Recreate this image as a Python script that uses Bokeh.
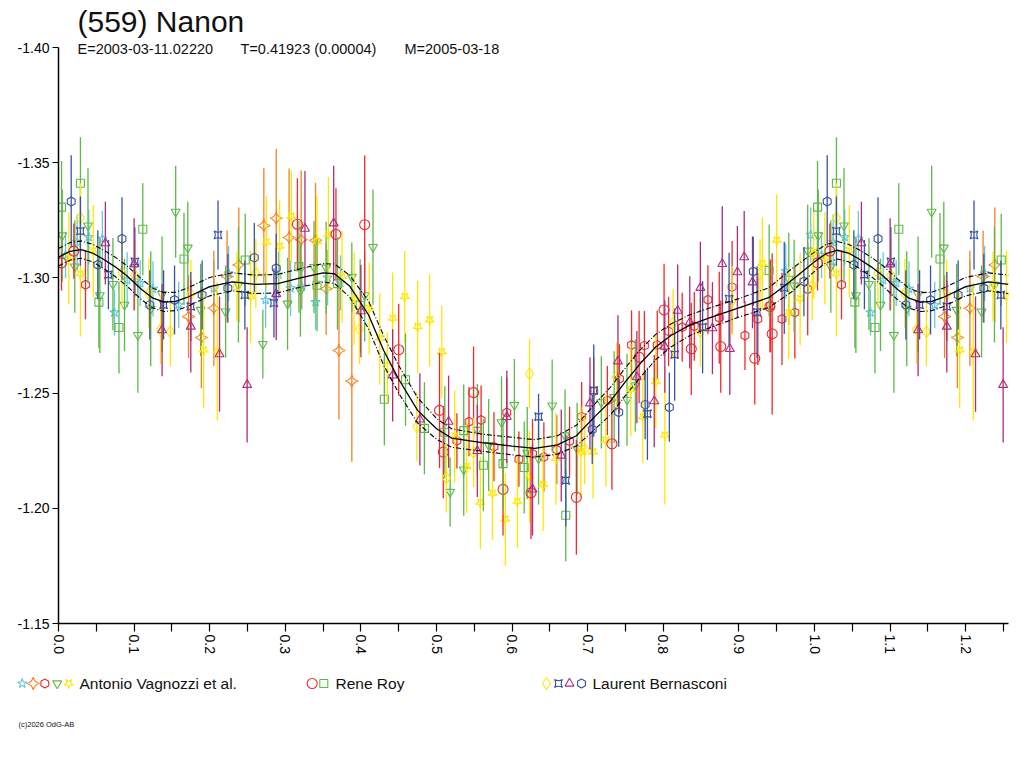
import math
from bokeh.plotting import figure
from bokeh.models import Range1d, FixedTicker, PrintfTickFormatter, Label
from bokeh.core.properties import value
from bokeh.embed import file_html
from bokeh.resources import INLINE

TITLE = "(559) Nanon"
SUB_E = "E=2003-03-11.02220"
SUB_T = "T=0.41923 (0.00004)"
SUB_M = "M=2005-03-18"
COPYRIGHT = "(c)2026 OdG-AB"

X_TICKS = [0.0, 0.1, 0.2, 0.3, 0.4, 0.5, 0.6, 0.7, 0.8, 0.9, 1.0, 1.1, 1.2]
X_MINOR = [0.05, 0.15, 0.25, 0.35, 0.45, 0.55, 0.65, 0.75, 0.85, 0.95, 1.05, 1.15, 1.25]
Y_TICKS = [-1.40, -1.35, -1.30, -1.25, -1.20, -1.15]
PHASE_MAX = 1.2566
REPEAT_LIMIT = 0.2566
MAG_FAINT = -1.15
MAG_BRIGHT = -1.40
MAG_TOP_MARGIN = -1.4204

# (phase, magnitude, error)
A1_star = [(0.0093,-1.3099,0.010),(0.0247,-1.3155,0.012),(0.040,-1.3177,0.012),(0.058,-1.3170,0.012),
           (0.074,-1.2850,0.010),(0.0908,-1.2991,0.012),(0.108,-1.2977,0.010),(0.125,-1.2952,0.012),
           (0.159,-1.2883,0.010),(0.2055,-1.2955,0.012),(0.225,-1.3020,0.012),(0.274,-1.2904,0.012),
           (0.291,-1.3014,0.010),(0.307,-1.2955,0.012),(0.322,-1.2962,0.010),(0.340,-1.2895,0.012),
           (0.356,-1.3001,0.012),(0.373,-1.2978,0.012),(0.962,-1.3029,0.012),(0.995,-1.3187,0.012)]
A2_fourstar = [(0.172,-1.2832,0.018),(0.189,-1.2741,0.022),(0.2055,-1.2868,0.025),(0.223,-1.3006,0.020),
               (0.2385,-1.3056,0.025),(0.2716,-1.3227,0.025),(0.288,-1.3259,0.030),(0.305,-1.3175,0.030),
               (0.321,-1.3166,0.030),(0.340,-1.3163,0.025),(0.354,-1.2953,0.020),(0.371,-1.2685,0.030),
               (0.388,-1.2552,0.035)]
A3_pentagon = [(0.0357,-1.2970,0.015),(0.527,-1.2293,0.012),(0.543,-1.2376,0.015),(0.559,-1.2383,0.015),
               (0.576,-1.2267,0.015),(0.593,-1.2416,0.015),(0.609,-1.2213,0.012),(0.627,-1.2237,0.015),
               (0.642,-1.2223,0.015),(0.659,-1.2254,0.015),(0.676,-1.2291,0.015),(0.692,-1.2398,0.015),
               (0.708,-1.2508,0.015),(0.726,-1.2468,0.015),(0.742,-1.2562,0.015),(0.758,-1.2709,0.015),
               (0.775,-1.2706,0.015),(0.792,-1.2709,0.015),(0.807,-1.2768,0.015),(0.825,-1.2786,0.015),
               (0.841,-1.2790,0.015),(0.859,-1.2905,0.015),(0.874,-1.2827,0.020),(0.891,-1.2960,0.020),
               (0.908,-1.2750,0.015),(0.925,-1.2822,0.020),(0.942,-1.2880,0.020),(0.957,-1.2822,0.020),
               (0.974,-1.2850,0.020),(0.991,-1.2951,0.020)]
A4_invtri = [(0.0049,-1.3184,0.020),(0.0216,-1.3049,0.020),(0.039,-1.3227,0.025),(0.0547,-1.2924,0.025),
             (0.072,-1.2973,0.020),(0.0873,-1.2883,0.020),(0.105,-1.2752,0.025),(0.122,-1.2866,0.025),
             (0.137,-1.2930,0.025),(0.155,-1.3287,0.020),(0.171,-1.3131,0.020),(0.188,-1.2861,0.020),
             (0.221,-1.2854,0.020),(0.238,-1.2970,0.025),(0.2703,-1.2713,0.015),(0.303,-1.2888,0.020),
             (0.320,-1.2945,0.020),(0.338,-1.3047,0.020),(0.354,-1.3044,0.020),(0.388,-1.3004,0.015),
             (0.405,-1.2924,0.020),(0.416,-1.3134,0.025),(0.518,-1.2071,0.015),(0.536,-1.2168,0.020),
             (0.554,-1.2340,0.020),(0.569,-1.2274,0.020),(0.586,-1.2373,0.020),(0.603,-1.2448,0.020),
             (0.620,-1.2240,0.020),(0.635,-1.2216,0.020),(0.653,-1.2446,0.020),(0.670,-1.2316,0.020),
             (0.686,-1.2258,0.020),(0.718,-1.2460,0.020),(0.735,-1.2482,0.020),(0.752,-1.2471,0.020),
             (0.763,-1.2533,0.020),(0.966,-1.2996,0.020),(0.973,-1.2966,0.020),(0.991,-1.3118,0.020)]
A5_bowtie = [(0.0137,-1.3085,0.020),(0.029,-1.3016,0.027),(0.046,-1.3116,0.020),(0.192,-1.2685,0.025),
             (0.210,-1.2681,0.030),(0.254,-1.2919,0.020),(0.275,-1.3154,0.020),(0.2925,-1.3136,0.020),
             (0.308,-1.3266,0.020),(0.342,-1.3155,0.020),(0.357,-1.3187,0.025),(0.375,-1.3004,0.020),
             (0.391,-1.2910,0.020),(0.411,-1.2866,0.020),(0.425,-1.2736,0.020),(0.442,-1.2823,0.020),
             (0.458,-1.2917,0.020),(0.475,-1.2787,0.020),(0.491,-1.2816,0.020),(0.507,-1.2678,0.020),
             (0.524,-1.2311,0.020),(0.540,-1.2180,0.020),(0.558,-1.2024,0.020),(0.574,-1.2064,0.020),
             (0.591,-1.1952,0.020),(0.607,-1.2029,0.020),(0.623,-1.2137,0.020),(0.641,-1.2101,0.020),
             (0.658,-1.2215,0.020),(0.691,-1.2243,0.020),(0.707,-1.2243,0.020),(0.724,-1.2294,0.020),
             (0.757,-1.2514,0.020),(0.773,-1.2396,0.020),(0.790,-1.2548,0.020),(0.802,-1.2316,0.030),
             (0.931,-1.3061,0.020),(0.950,-1.3162,0.020),(0.966,-1.2847,0.020),(0.981,-1.2908,0.020),
             (0.999,-1.3110,0.020)]
R1_circle = [(0.004,-1.3065,0.012),(0.0203,-1.3116,0.012),(0.316,-1.3233,0.020),(0.367,-1.3189,0.020),
             (0.405,-1.3231,0.030),(0.450,-1.2688,0.020),(0.504,-1.2425,0.025),(0.509,-1.2244,0.020),
             (0.549,-1.2502,0.020),(0.588,-1.2082,0.020),(0.625,-1.2067,0.020),(0.685,-1.2048,0.025),
             (0.732,-1.2280,0.020),(0.768,-1.2656,0.020),(0.801,-1.2861,0.020),(0.837,-1.2692,0.020),
             (0.876,-1.2702,0.020),(0.921,-1.2651,0.020),(0.941,-1.2876,0.020),(0.944,-1.2757,0.035)]
R2_square = [(0.004,-1.3307,0.020),(0.029,-1.3411,0.020),(0.0534,-1.2895,0.020),(0.080,-1.2785,0.020),
             (0.1115,-1.3211,0.020),(0.166,-1.3082,0.020),(0.247,-1.3078,0.020),(0.318,-1.3049,0.020),
             (0.342,-1.2968,0.020),(0.369,-1.2975,0.020),(0.399,-1.2881,0.020),(0.431,-1.2473,0.020),
             (0.459,-1.2558,0.020),(0.484,-1.2347,0.020),(0.511,-1.2330,0.020),(0.536,-1.2337,0.020),
             (0.562,-1.2187,0.020),(0.588,-1.2194,0.020),(0.616,-1.2177,0.020),(0.671,-1.1970,0.020),
             (0.940,-1.3032,0.020)]
L1_diamond = [(0.029,-1.3261,0.015),(0.084,-1.3023,0.015),(0.101,-1.3012,0.015),(0.1195,-1.2933,0.015),
              (0.135,-1.2776,0.015),(0.148,-1.2766,0.015),(0.175,-1.2929,0.015),(0.236,-1.2962,0.015),
              (0.261,-1.3020,0.015),(0.398,-1.2777,0.015),(0.435,-1.2613,0.015),(0.474,-1.2354,0.015),
              (0.513,-1.2132,0.015),(0.549,-1.2242,0.015),(0.623,-1.2584,0.015),(0.696,-1.2255,0.015),
              (0.738,-1.2569,0.015),(0.813,-1.2803,0.015),(0.849,-1.2767,0.015),(0.891,-1.2902,0.015),
              (0.928,-1.3018,0.015),(0.997,-1.2965,0.015)]
L2_bowtie = [(0.029,-1.3203,0.015),(0.066,-1.3014,0.015),(0.101,-1.3070,0.015),(0.139,-1.2883,0.015),
             (0.175,-1.2876,0.015),(0.211,-1.3186,0.015),(0.2465,-1.2926,0.015),(0.285,-1.2891,0.015),
             (0.635,-1.2397,0.010),(0.671,-1.2121,0.020),(0.708,-1.2511,0.020),(0.779,-1.2410,0.020),
             (0.815,-1.2667,0.020),(0.852,-1.2786,0.020),(0.887,-1.2909,0.020),(0.924,-1.2851,0.020),
             (0.960,-1.2957,0.020)]
L3_triangle = [(0.062,-1.3151,0.018),(0.100,-1.3059,0.020),(0.137,-1.2773,0.020),(0.175,-1.2789,0.020),
               (0.213,-1.2669,0.025),(0.2495,-1.2536,0.025),(0.288,-1.2930,0.020),(0.326,-1.3214,0.025),
               (0.364,-1.3237,0.025),(0.400,-1.2856,0.020),(0.442,-1.2577,0.020),(0.478,-1.2386,0.020),
               (0.516,-1.2376,0.020),(0.554,-1.2249,0.020),(0.593,-1.2397,0.020),(0.627,-1.2082,0.020),
               (0.665,-1.2229,0.020),(0.703,-1.2456,0.020),(0.740,-1.2638,0.020),(0.765,-1.2569,0.020),
               (0.788,-1.2465,0.020),(0.802,-1.2702,0.020),(0.819,-1.2858,0.020),(0.835,-1.2807,0.020),
               (0.849,-1.2957,0.020),(0.865,-1.2782,0.020),(0.878,-1.3061,0.025),(0.888,-1.2692,0.020),
               (0.898,-1.3025,0.020),(0.907,-1.3090,0.020),(0.918,-1.2981,0.020)]
L4_hexagon = [(0.0168,-1.3332,0.020),(0.052,-1.3057,0.015),(0.084,-1.3170,0.018),(0.1208,-1.2883,0.015),
              (0.1535,-1.2904,0.015),(0.190,-1.2926,0.015),(0.224,-1.2955,0.015),(0.259,-1.3088,0.015),
              (0.288,-1.3042,0.015),(0.706,-1.2342,0.015),(0.741,-1.2417,0.015),(0.776,-1.2450,0.015),
              (0.808,-1.2439,0.015),(0.919,-1.3028,0.015),(0.986,-1.2984,0.015)]

curve_phase = [0.00,0.015,0.03,0.045,0.06,0.075,0.09,0.11,0.125,0.14,0.155,0.17,0.20,0.23,0.26,0.29,0.32,
               0.35,0.365,0.385,0.41,0.43,0.45,0.475,0.50,0.52,0.56,0.60,0.63,0.66,0.685,0.71,0.73,0.75,
               0.77,0.79,0.81,0.835,0.86,0.90,0.94,0.97,1.00,1.015,1.03,1.045,1.06,1.075,1.09,1.11,1.125,
               1.14,1.155,1.17,1.20,1.23,1.2566]
curve_mag = [-1.3090,-1.3115,-1.3123,-1.3108,-1.3080,-1.3048,-1.3010,-1.2950,-1.2912,-1.2895,-1.2898,
             -1.2915,-1.2962,-1.2983,-1.2972,-1.2975,-1.3000,-1.3022,-1.3018,-1.2965,-1.2840,-1.2686,
             -1.2560,-1.2425,-1.2345,-1.2305,-1.2285,-1.2270,-1.2260,-1.2275,-1.2315,-1.2400,-1.2465,
             -1.2550,-1.2630,-1.2700,-1.2750,-1.2795,-1.2825,-1.2870,-1.2915,-1.2990,-1.3070,-1.3105,
             -1.3120,-1.3108,-1.3080,-1.3048,-1.3010,-1.2950,-1.2912,-1.2895,-1.2898,-1.2915,-1.2962,
             -1.2983,-1.2972]
curve_upper = [-1.3128,-1.3153,-1.3160,-1.3146,-1.3120,-1.3090,-1.3054,-1.2995,-1.2955,-1.2936,-1.2938,
               -1.2955,-1.3002,-1.3022,-1.3012,-1.3015,-1.3040,-1.3062,-1.3060,-1.3012,-1.2900,-1.2750,
               -1.2620,-1.2480,-1.2390,-1.2345,-1.2322,-1.2308,-1.2298,-1.2315,-1.2360,-1.2455,-1.2525,
               -1.2610,-1.2690,-1.2755,-1.2800,-1.2840,-1.2868,-1.2910,-1.2958,-1.3040,-1.3112,-1.3145,
               -1.3158,-1.3146,-1.3120,-1.3090,-1.3054,-1.2995,-1.2955,-1.2936,-1.2938,-1.2955,-1.3002,
               -1.3022,-1.3012]
curve_lower = [-1.3052,-1.3077,-1.3085,-1.3070,-1.3040,-1.3006,-1.2966,-1.2905,-1.2869,-1.2854,-1.2858,
               -1.2875,-1.2922,-1.2944,-1.2932,-1.2935,-1.2960,-1.2982,-1.2976,-1.2918,-1.2780,-1.2622,
               -1.2500,-1.2370,-1.2300,-1.2265,-1.2248,-1.2232,-1.2222,-1.2235,-1.2270,-1.2345,-1.2405,
               -1.2490,-1.2570,-1.2645,-1.2700,-1.2750,-1.2782,-1.2830,-1.2872,-1.2940,-1.3028,-1.3065,
               -1.3082,-1.3070,-1.3040,-1.3006,-1.2966,-1.2905,-1.2869,-1.2854,-1.2858,-1.2875,-1.2922,
               -1.2944,-1.2932]

OBSERVERS = ["Antonio Vagnozzi et al.", "Rene Roy", "Laurent Bernasconi"]

# name, data, marker, color, angle, size
SERIES = [
    ("A1", A1_star, "star", "#66c8dc", 0.0, 10),
    ("A2", A2_fourstar, "square_pin", "#f5821f", math.pi / 4, 9),
    ("A3", A3_pentagon, "hex", "#ee2a2a", math.pi / 2, 9),
    ("A4", A4_invtri, "inverted_triangle", "#5cb947", 0.0, 9),
    ("A5", A5_bowtie, "star", "#ffe600", math.pi, 10),
    ("R1", R1_circle, "circle", "#ee2a2a", 0.0, 10),
    ("R2", R2_square, "square", "#5cb947", 0.0, 8),
    ("L1", L1_diamond, "diamond", "#ffe600", 0.0, 12),
    ("L2", L2_bowtie, "square_pin", "#3953a4", 0.0, 8),
    ("L3", L3_triangle, "triangle", "#b02a7d", 0.0, 9),
    ("L4", L4_hexagon, "hex", "#3953a4", math.pi / 2, 9),
]

FONT = "Liberation Sans"

# main plot: frame spans page x 58..1008, y 0..623 (range -1.40 sits at y=47)
p = figure(width=1016, height=668, x_range=Range1d(0, PHASE_MAX),
           y_range=Range1d(MAG_FAINT, MAG_TOP_MARGIN),
           output_backend="svg", toolbar_location=None, title=None,
           min_border_left=58, min_border_right=8, min_border_top=0, min_border_bottom=45)
p.outline_line_color = None
p.xgrid.visible = False
p.ygrid.visible = False
p.background_fill_color = "white"
p.border_fill_color = "white"

xa = p.xaxis[0]
xa.ticker = FixedTicker(ticks=X_TICKS, minor_ticks=X_MINOR)
xa.formatter = PrintfTickFormatter(format="%.1f")
xa.major_label_orientation = -math.pi / 2
xa.major_tick_in = 0
xa.major_tick_out = 8
xa.minor_tick_in = 0
xa.minor_tick_out = 8
xa.axis_line_width = 1.5
xa.major_tick_line_width = 1.2
xa.minor_tick_line_width = 1.2
xa.major_label_text_font = FONT
xa.major_label_text_font_size = "14px"
xa.major_label_text_color = "#000000"
xa.major_label_standoff = 3

ya = p.yaxis[0]
ya.ticker = FixedTicker(ticks=Y_TICKS, minor_ticks=[])
ya.formatter = PrintfTickFormatter(format="%.2f")
ya.bounds = (MAG_BRIGHT, MAG_FAINT)
ya.major_tick_in = 0
ya.major_tick_out = 6
ya.minor_tick_out = 0
ya.axis_line_width = 1.5
ya.major_tick_line_width = 1.2
ya.major_label_text_font = FONT
ya.major_label_text_font_size = "14px"
ya.major_label_text_color = "#000000"
ya.major_label_standoff = 3

for name, pts, marker, color, angle, size in SERIES:
    xs = [ph for ph, m, e in pts] + [ph + 1 for ph, m, e in pts if ph < REPEAT_LIMIT]
    ys = [m for ph, m, e in pts] + [m for ph, m, e in pts if ph < REPEAT_LIMIT]
    es = [e for ph, m, e in pts] + [e for ph, m, e in pts if ph < REPEAT_LIMIT]
    p.segment(x0=xs, y0=[y - e for y, e in zip(ys, es)], x1=xs, y1=[y + e for y, e in zip(ys, es)],
              line_color=color, line_width=1.3)
    p.scatter(x=xs, y=ys, marker=marker, size=size, angle=angle, fill_color=None,
              line_color=color, line_width=1.1)

p.line(curve_phase, curve_mag, line_color="black", line_width=1.3)
p.line(curve_phase, curve_upper, line_color="black", line_width=1.1, line_dash="5 2 1 2")
p.line(curve_phase, curve_lower, line_color="black", line_width=1.1, line_dash="5 2 1 2")

# title texts (screen units relative to the frame; frame bottom at page y 623, left at page x 58)
p.add_layout(Label(x=19, y=602, x_units="screen", y_units="screen", text=TITLE,
                   text_font=FONT, text_font_size="30px", text_baseline="middle", text_color="#111111"))
for xoff, txt in [(19, SUB_E), (182, SUB_T), (346, SUB_M)]:
    p.add_layout(Label(x=xoff, y=575, x_units="screen", y_units="screen", text=txt,
                       text_font=FONT, text_font_size="14.5px", text_baseline="middle", text_color="#111111"))

# legend strip (its own root, coordinates = page pixels relative to its top-left corner)
lg = figure(width=1016, height=92, x_range=Range1d(0, 1016), y_range=Range1d(92, 0),
            output_backend="svg", toolbar_location=None, title=None, x_axis_type=None, y_axis_type=None,
            min_border_left=0, min_border_right=0, min_border_top=0, min_border_bottom=0)
lg.outline_line_color = None
lg.xgrid.visible = False
lg.ygrid.visible = False

legend_marker_x = [21.7, 32.7, 44.3, 56.7, 68.3, 311.7, 323.3, 546, 558, 569, 581]
legend_text_x = [79, 335, 592]
for (name, pts, marker, color, angle, size), lx in zip(SERIES, legend_marker_x):
    lg.scatter(x=[lx], y=[15], marker=marker, size=size, angle=angle, fill_color=None,
               line_color=color, line_width=1.1)
lg.text(x=legend_text_x, y=[15, 15, 15], text=OBSERVERS, text_font=value(FONT), text_font_size="15.5px",
        text_baseline="middle", text_color="#111111")
lg.text(x=[18], y=[56], text=[COPYRIGHT], text_font=value(FONT), text_font_size="7.5px",
        text_baseline="middle", text_color="#111111")

open("out.html", "w").write(file_html([p, lg], INLINE))
